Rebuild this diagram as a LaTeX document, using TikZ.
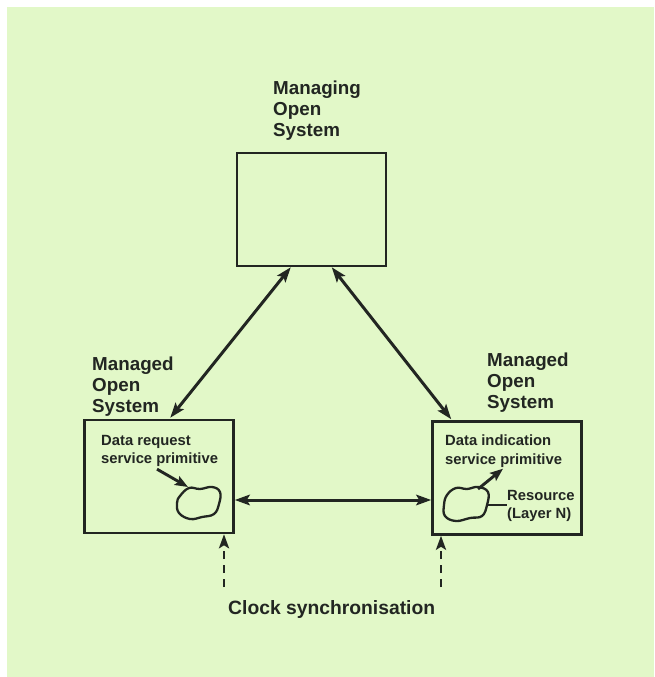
\documentclass[tikz,border=0pt]{standalone}
\usepackage{fontspec}
\setmainfont{Liberation Sans}
\usetikzlibrary{arrows.meta,calc}
\definecolor{paper}{RGB}{226,248,200}
\definecolor{ink}{RGB}{34,38,34}
\begin{document}
\begin{tikzpicture}[x=1pt,y=-1pt,
  sysbox/.style={draw=ink,line width=2.5pt,minimum width=149pt,minimum height=113pt,inner sep=0pt},
  biglabel/.style={anchor=north west,inner sep=0pt,align=left,text=ink,
    font=\fontsize{18.8}{21}\selectfont\bfseries},
  smalllabel/.style={anchor=north west,inner sep=0pt,align=left,text=ink,
    font=\fontsize{14.8}{18.5}\selectfont\bfseries},
  tip/.style={Stealth[length=15pt,width=10.5pt,inset=3pt]},
  dbl/.style={draw=ink,line width=3pt,{Stealth[length=15pt,width=10.5pt,inset=3pt]}-{Stealth[length=15pt,width=10.5pt,inset=3pt]}},
  one/.style={draw=ink,line width=2.9pt,-{Stealth[length=13pt,width=10pt,inset=2.5pt]}},
  clock/.style={draw=ink,line width=2.7pt,dash pattern=on 8pt off 6pt,-{Stealth[length=14pt,width=10pt,inset=3pt]}},
  blob/.style={draw=ink,line width=2.3pt}]
% page and paper
\useasboundingbox (0,0) rectangle (654,677);
\fill[white] (0,0) rectangle (654,677);
\fill[paper] (7,7) rectangle (654,677);

% the three open systems
\node[sysbox] (mgr) at (311.5,209.5) {};
\node[sysbox] (left) at (159,476.5) {};
\node[sysbox] (right) at (507,478) {};

\node[biglabel] (mgrlbl) at (273,80.5) {Managing\\Open\\System};
\node[biglabel] (leftlbl) at (92,357) {Managed\\Open\\System};
\node[biglabel] (rightlbl) at (487,353) {Managed\\Open\\System};

% contents of the managed systems
\node[smalllabel] (req) at (101,435) {Data request\\service primitive};
\node[smalllabel] (ind) at (445,435) {Data indication\\service primitive};
\node[smalllabel] (res) at (507,490) {Resource\\(Layer N)};

\draw[blob] plot[smooth cycle,tension=0.7] coordinates
  {(180,496) (189,488) (200,489) (212,487) (220,492) (219,504) (214,514) (202,517) (190,519) (179,513) (177,503)};
\coordinate (cloudL) at (188,487);
\draw[blob] plot[smooth cycle,tension=0.7] coordinates
  {(447,495) (456,488) (467,489) (478,487) (488,492) (487,505) (482,516) (470,518) (456,521) (445,516) (444,505)};
\coordinate (cloudR) at (478,489);
\coordinate (cloudRr) at (487,505);

\draw[one] ($(req.south west)+(56,2)$) -- (cloudL);
\draw[one] (cloudR) -- ($(ind.south west)+(58,1)$);
\draw[draw=ink,line width=1.9pt] (cloudRr) -- (res.west |- cloudRr);

% management and peer connections
\draw[dbl] ($(mgr.south west)+(55,0)$) -- ($(left.north west)+(87,-1)$);
\draw[dbl] ($(mgr.south west)+(96,0)$) -- ($(right.north west)+(20,-1)$);
\draw[dbl] (left.east |- 0,500) -- (right.west |- 0,500);

% clock synchronisation
\node[anchor=north west,text=ink,inner sep=0pt,font=\fontsize{19.3}{22}\selectfont\bfseries] (clk) at (228,600.5) {Clock synchronisation};
\coordinate (clkL) at (224,587);
\coordinate (clkR) at (441,587);
\draw[clock] (clkL) -- (clkL |- left.south);
\draw[clock] (clkR) -- (clkR |- right.south);
\end{tikzpicture}
\end{document}
